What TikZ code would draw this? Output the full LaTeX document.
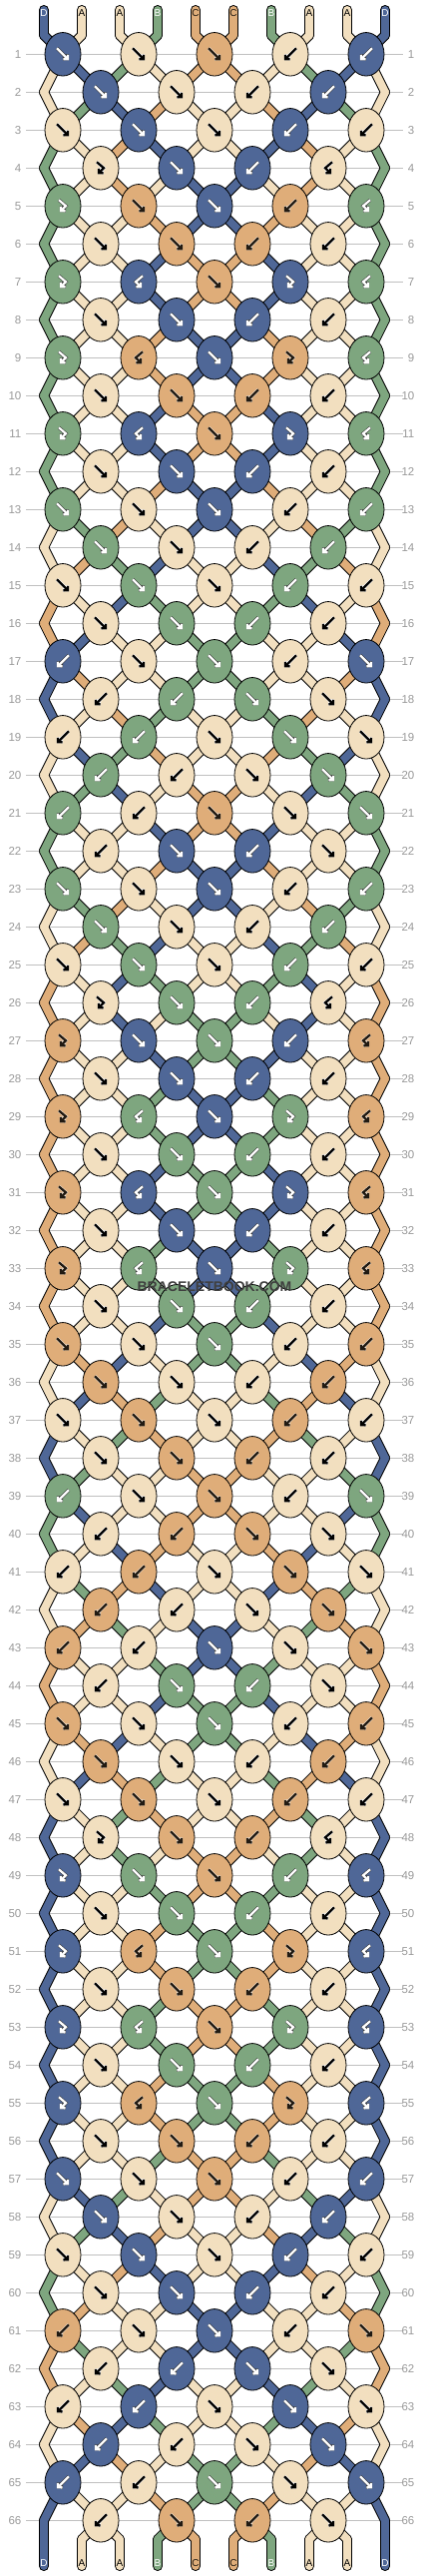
\documentclass[tikz,border=0pt]{standalone}
\usepackage{fontspec}
\setmainfont{Liberation Sans}
\usetikzlibrary{shapes.geometric, arrows.meta}

\definecolor{colA}{HTML}{F2DFBF}
\definecolor{colB}{HTML}{7EA67F}
\definecolor{colC}{HTML}{DFAD79}
\definecolor{colD}{HTML}{4F6797}
\colorlet{inkA}{black}
\colorlet{inkB}{white}
\colorlet{inkC}{black!85!colC}
\colorlet{inkD}{white}
\colorlet{haloA}{white}
\colorlet{haloB}{black!80}
\colorlet{haloC}{white!70!colC}
\colorlet{haloD}{black!80}
\definecolor{rulegray}{HTML}{C0C0C0}
\definecolor{numgray}{HTML}{9A9A9A}

% knots of one repeat (22 rows)
% 1 = forward, 2 = backward, 3 = forward-backward, 4 = backward-forward
\expandafter\def\csname pat1\endcsname{1,1,1,2,2}
\expandafter\def\csname pat2\endcsname{1,1,2,2}
\expandafter\def\csname pat3\endcsname{1,1,1,2,2}
\expandafter\def\csname pat4\endcsname{3,1,2,4}
\expandafter\def\csname pat5\endcsname{3,1,1,2,4}
\expandafter\def\csname pat6\endcsname{1,1,2,2}
\expandafter\def\csname pat7\endcsname{3,4,1,3,4}
\expandafter\def\csname pat8\endcsname{1,1,2,2}
\expandafter\def\csname pat9\endcsname{3,4,1,3,4}
\expandafter\def\csname pat10\endcsname{1,1,2,2}
\expandafter\def\csname pat11\endcsname{3,4,1,3,4}
\expandafter\def\csname pat12\endcsname{1,1,2,2}
\expandafter\def\csname pat13\endcsname{1,1,1,2,2}
\expandafter\def\csname pat14\endcsname{1,1,2,2}
\expandafter\def\csname pat15\endcsname{1,1,1,2,2}
\expandafter\def\csname pat16\endcsname{1,1,2,2}
\expandafter\def\csname pat17\endcsname{2,1,1,2,1}
\expandafter\def\csname pat18\endcsname{2,2,1,1}
\expandafter\def\csname pat19\endcsname{2,2,1,1,1}
\expandafter\def\csname pat20\endcsname{2,2,1,1}
\expandafter\def\csname pat21\endcsname{2,2,1,1,1}
\expandafter\def\csname pat22\endcsname{2,1,2,1}

\def\startlist{D,A,A,B,C,C,B,A,A,D}

% lists filled while the knots are worked out, drawn afterwards
\let\piece\relax
\let\knotat\relax
\gdef\pieces{}
\gdef\knots{}

\begin{document}
\begin{tikzpicture}[x=1pt, y=-1pt,
knot/.style={ellipse, draw=black, line width=0.8pt, minimum width=36pt, minimum height=43.5pt, inner sep=0pt},
yarn rim/.style={draw=black, line width=10pt, line cap=round, line join=round},
yarn fill/.style={line width=8pt, line cap=round, line join=round},
glyph/.style={line width=2.3pt, line join=miter, -{Straight Barb[length=3pt, width=6.5pt]}},
rule/.style={draw=rulegray, line width=0.9pt},
rownum/.style={text=numgray, anchor=east, inner sep=0pt, font=\fontsize{11.5}{12}\selectfont},
endlabel/.style={inner sep=0pt, font=\fontsize{10}{10}\selectfont},
brand/.style={text=black!75, font=\bfseries\fontsize{14}{14}\selectfont},
]
\useasboundingbox (0,0) rectangle (430,2580);
\fill[white] (0,0) rectangle (430,2580);

%Strings at the top
\foreach \s [count=\p from 0] in \startlist {
  \pgfmathsetmacro\xp{44+38*\p}
  \expandafter\xdef\csname s\p\endcsname{\s}
  \coordinate (top-\p) at (\xp,10);
  \coordinate (bend-\p) at (\xp,35.3);
  \xdef\pieces{\pieces\piece{top-\p}{bend-\p}{\s}}
  \expandafter\xdef\csname lp\p\endcsname{bend-\p}
}

%Rows
\foreach \r in {1,...,66} {
  \pgfmathsetmacro\y{54.3+38*(\r-1)}
  \pgfmathtruncatemacro\pat{mod(\r-1,22)+1}
  \pgfmathtruncatemacro\off{mod(\r+1,2)}
  \draw[rule] (26,\y) coordinate (rl-\r) -- (404,\y) coordinate (rr-\r);
  \node[rownum] (numl-\r) at (21.5,\y) {\r};
  \node[rownum] (numr-\r) at (415.5,\y) {\r};
  \edef\typelist{\csname pat\pat\endcsname}
  \foreach \kt [count=\k from 0] in \typelist {
    \pgfmathtruncatemacro\li{\off+2*\k}
    \pgfmathtruncatemacro\ri{\li+1}
    \pgfmathsetmacro\kx{63+38*\li}
    \edef\lc{\csname s\li\endcsname}
    \edef\rc{\csname s\ri\endcsname}
    \ifodd\kt\relax \edef\kc{\lc}\else \edef\kc{\rc}\fi
    \coordinate (k-\r-\li) at (\kx,\y);
    \edef\fromL{\csname lp\li\endcsname}
    \edef\fromR{\csname lp\ri\endcsname}
    \xdef\pieces{\pieces\piece{\fromL}{k-\r-\li}{\lc}\piece{\fromR}{k-\r-\li}{\rc}}
    \xdef\knots{\knots\knotat{\r}{\li}{\kx}{\y}{\kc}{\kt}}
    \ifnum\kt<3
      \expandafter\xdef\csname s\li\endcsname{\rc}
      \expandafter\xdef\csname s\ri\endcsname{\lc}
    \fi
    \expandafter\xdef\csname lp\li\endcsname{k-\r-\li}
    \expandafter\xdef\csname lp\ri\endcsname{k-\r-\li}
  }
  % edge strings bend out on even rows
  \ifnum\off=1
    \coordinate (z-\r-0) at (44,\y);
    \coordinate (z-\r-9) at (386,\y);
    \edef\fromL{\csname lp0\endcsname}\edef\lc{\csname s0\endcsname}
    \edef\fromR{\csname lp9\endcsname}\edef\rc{\csname s9\endcsname}
    \xdef\pieces{\pieces\piece{\fromL}{z-\r-0}{\lc}\piece{\fromR}{z-\r-9}{\rc}}
    \expandafter\xdef\csname lp0\endcsname{z-\r-0}
    \expandafter\xdef\csname lp9\endcsname{z-\r-9}
  \fi
}

%Strings at the bottom
\foreach \p in {0,...,9} {
  \pgfmathsetmacro\xp{44+38*\p}
  \edef\fromL{\csname lp\p\endcsname}
  \edef\lc{\csname s\p\endcsname}
  \coordinate (foot-\p) at (\xp,2543.3);
  \coordinate (tail-\p) at (\xp,2570);
  \xdef\pieces{\pieces\piece{\fromL}{foot-\p}{\lc}\piece{foot-\p}{tail-\p}{\lc}}
}

%Draw strings: black rim first, then colour
\def\piece#1#2#3{\draw[yarn rim] (#1) -- (#2);}
\pieces
\def\piece#1#2#3{\draw[yarn fill, draw=col#3] (#1) -- (#2);}
\pieces

%Knots with their arrows
\def\knotat#1#2#3#4#5#6{%
  \node[knot, fill=col#5] (knot-#1-#2) at (#3,#4) {};
  \ifcase#6\or
    \def\glyphpath{(-6,-6) -- (6,6)}\or
    \def\glyphpath{(6,-6) -- (-6,6)}\or
    \def\glyphpath{(-4,-6) -- (3,0) -- (-3,6)}\or
    \def\glyphpath{(4,-6) -- (-3,0) -- (3,6)}\fi
  \draw[glyph, draw=halo#5, line width=3.3pt, shift={(#3,#4)}] \glyphpath;
  \draw[glyph, draw=ink#5, shift={(#3,#4)}] \glyphpath;}
\knots

%Letters on the string ends
\foreach \s [count=\p from 0] in \startlist {
  \pgfmathsetmacro\xp{44+38*\p}
  \edef\lc{\csname s\p\endcsname}
  \node[endlabel, text=ink\s] (lab-t-\p) at (\xp,13) {\s};
  \node[endlabel, text=ink\lc] (lab-b-\p) at (\xp,2567) {\lc};
}

\node[brand] (brand) at (215,1289) {BRACELETBOOK.COM};
\end{tikzpicture}
\end{document}
